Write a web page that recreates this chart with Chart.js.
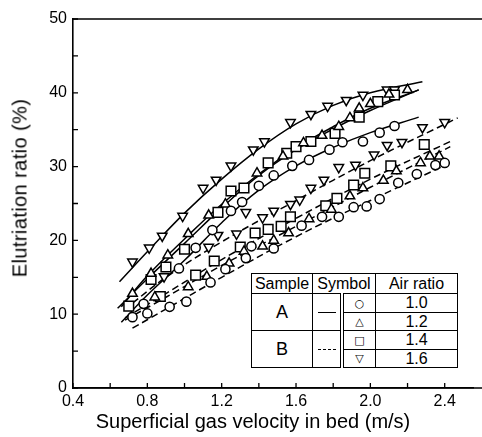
<!DOCTYPE html>
<html>
<head>
<meta charset="utf-8">
<script src="https://cdn.jsdelivr.net/npm/chart.js@4.4.1/dist/chart.umd.min.js"></script>
<style>
  html, body { margin: 0; padding: 0; background: #fff; }
  #wrap { position: relative; width: 482px; height: 437px; overflow: hidden; font-family: "Liberation Sans", Arial, sans-serif; color: #000; }
  canvas { position: absolute; left: 0; top: 0; }
  .ytitle { position: absolute; left: 20px; top: 188px; transform: translate(-50%, -50%) rotate(-90deg); white-space: nowrap; font-size: 20px; letter-spacing: 0.4px; }
  .xtitle { position: absolute; left: 253px; top: 421px; transform: translate(-50%, -50%); white-space: nowrap; font-size: 20px; }
  table.leg { position: absolute; left: 251px; top: 273px; border-collapse: collapse; background: #fff; font-size: 16px; }
  table.leg td { border: 1.5px solid #000; padding: 0; text-align: center; line-height: 1; }
  .sym { font-family: "DejaVu Sans", sans-serif; font-size: 11px; font-weight: bold; }
  .ln { display: inline-block; width: 18px; height: 0; vertical-align: middle; }
</style>
</head>
<body>
<div id="wrap">
  <canvas id="c" width="482" height="437"></canvas>
  <div class="ytitle">Elutriation ratio (%)</div>
  <div class="xtitle">Superficial gas velocity in bed (m/s)</div>
  <table class="leg">
    <tr style="height:20px">
      <td style="width:60px">Sample</td>
      <td colspan="2" style="width:62px">Symbol</td>
      <td style="width:81px">Air ratio</td>
    </tr>
    <tr style="height:19px">
      <td rowspan="2" style="font-size:18px">A</td>
      <td rowspan="2" style="width:27px;border-right:4px double #000"><span class="ln" style="border-top:1.5px solid #000"></span></td>
      <td class="sym" style="width:31px">○</td>
      <td>1.0</td>
    </tr>
    <tr style="height:18px">
      <td class="sym">△</td>
      <td>1.2</td>
    </tr>
    <tr style="height:19px">
      <td rowspan="2" style="font-size:18px">B</td>
      <td rowspan="2" style="border-right:4px double #000"><span class="ln" style="border-top:1.5px dashed #000"></span></td>
      <td class="sym">□</td>
      <td>1.4</td>
    </tr>
    <tr style="height:18px">
      <td class="sym">▽</td>
      <td>1.6</td>
    </tr>
  </table>
</div>
<script>
// ---- tick values ----
const xTicks = [0.4, 0.6, 0.8, 1.0, 1.2, 1.4, 1.6, 1.8, 2.0, 2.2, 2.4];
const yTicks = [0, 5, 10, 15, 20, 25, 30, 35, 40, 45, 50];

// ---- Sample A (solid) measured points ----
const A10_x = [0.72, 0.78, 0.97, 1.06, 1.15, 1.25, 1.31, 1.40, 1.48, 1.58, 1.67, 1.78, 1.85, 1.96, 2.05, 2.13];
const A10_y = [9.6, 11.4, 16.2, 19.0, 21.4, 24.0, 25.2, 27.4, 28.8, 30.1, 30.9, 32.3, 33.3, 33.4, 34.6, 35.5];
const A12_x = [0.72, 0.82, 0.91, 1.02, 1.13, 1.22, 1.39, 1.53, 1.64, 1.74, 1.83, 1.89, 1.94, 2.00, 2.10, 2.20];
const A12_y = [12.8, 15.5, 18.0, 20.9, 23.4, 24.9, 29.1, 31.4, 33.2, 34.2, 35.4, 36.6, 37.9, 38.5, 39.8, 40.4];
const A14_x = [0.70, 0.82, 0.90, 1.00, 1.18, 1.25, 1.32, 1.45, 1.55, 1.60, 1.68, 1.81, 1.94, 2.04, 2.13];
const A14_y = [11.1, 14.7, 16.4, 18.8, 23.8, 26.7, 27.1, 30.5, 31.8, 32.7, 33.4, 34.5, 36.7, 38.8, 39.7];
const A16_x = [0.72, 0.81, 0.88, 0.99, 1.10, 1.17, 1.25, 1.37, 1.43, 1.57, 1.68, 1.77, 1.87, 1.96, 2.09, 2.13];
const A16_y = [17.1, 19.0, 20.6, 23.3, 27.1, 28.2, 30.1, 32.3, 33.4, 36.0, 37.1, 38.2, 39.0, 39.7, 40.4, 40.4];

// ---- Sample B (dashed) measured points ----
const B10_x = [0.80, 0.92, 1.01, 1.14, 1.22, 1.33, 1.36, 1.48, 1.63, 1.74, 1.83, 1.91, 1.98, 2.05, 2.15, 2.25, 2.35, 2.40];
const B10_y = [10.1, 11.0, 11.7, 14.3, 16.1, 17.6, 19.2, 18.9, 22.0, 23.2, 23.2, 24.5, 24.6, 25.6, 27.8, 29.0, 30.2, 30.5];
const B12_x = [0.84, 1.02, 1.12, 1.24, 1.32, 1.42, 1.48, 1.56, 1.67, 1.79, 1.89, 1.96, 2.07, 2.14, 2.27, 2.32, 2.37];
const B12_y = [12.3, 13.7, 15.1, 16.9, 18.5, 19.2, 20.0, 21.0, 22.9, 24.2, 26.0, 27.1, 28.1, 29.4, 30.5, 31.4, 31.4];
const B14_x = [0.87, 1.06, 1.16, 1.30, 1.38, 1.45, 1.52, 1.57, 1.76, 1.82, 1.91, 1.97, 2.11, 2.29];
const B14_y = [12.4, 15.3, 17.2, 19.1, 21.0, 21.5, 21.9, 23.2, 24.7, 25.7, 27.5, 29.1, 30.1, 33.0];
const B16_x = [0.89, 1.13, 1.18, 1.28, 1.33, 1.42, 1.48, 1.57, 1.62, 1.68, 1.75, 1.83, 1.92, 2.02, 2.09, 2.17, 2.28, 2.40];
const B16_y = [15.1, 19.1, 20.7, 20.9, 23.8, 23.1, 24.0, 24.9, 25.5, 27.1, 28.2, 29.9, 30.2, 31.6, 32.9, 33.3, 35.3, 36.0];

// ---- fitted curves ----
const A10_fit_x = [0.66, 0.8, 1.0, 1.2, 1.4, 1.6, 1.8, 2.0, 2.26];
const A10_fit_y = [8.9, 12.6, 17.3, 22.4, 26.8, 30.1, 32.6, 34.6, 36.7];
const A12_fit_x = [0.66, 0.8, 1.0, 1.2, 1.4, 1.6, 1.8, 2.0, 2.26];
const A12_fit_y = [11.0, 15.2, 20.2, 24.9, 29.0, 32.5, 35.4, 37.9, 40.4];
const A14_fit_x = [0.64, 0.8, 1.0, 1.2, 1.4, 1.6, 1.8, 2.0, 2.26];
const A14_fit_y = [10.8, 14.8, 19.6, 24.4, 28.8, 32.3, 35.1, 37.6, 40.4];
const A16_fit_x = [0.65, 0.82, 1.0, 1.2, 1.4, 1.6, 1.8, 2.0, 2.28];
const A16_fit_y = [14.4, 19.0, 23.7, 28.3, 32.4, 35.8, 38.3, 40.0, 41.5];
const B10_fit_x = [0.72, 0.9, 1.2, 1.6, 2.0, 2.42];
const B10_fit_y = [8.1, 10.7, 15.0, 20.5, 25.4, 30.4];
const B12_fit_x = [0.68, 0.9, 1.2, 1.6, 2.0, 2.43];
const B12_fit_y = [9.2, 12.3, 16.6, 21.9, 27.2, 32.7];
const B14_fit_x = [0.68, 0.9, 1.2, 1.6, 2.0, 2.43];
const B14_fit_y = [9.5, 12.8, 17.4, 23.0, 28.3, 33.4];
const B16_fit_x = [0.72, 0.9, 1.2, 1.6, 2.0, 2.47];
const B16_fit_y = [11.5, 15.0, 19.8, 25.4, 30.8, 36.6];

const pts = (xs, ys) => xs.map((x, i) => ({ x: x, y: ys[i] }));

function curve(xs, ys, dashed) {
  return {
    type: 'line', data: pts(xs, ys), showLine: true, pointRadius: 0,
    borderColor: '#000', borderWidth: 1.5, tension: 0.4,
    borderDash: dashed ? [7, 4] : [], fill: false, order: 2
  };
}
function marks(xs, ys, style, r, rot) {
  return {
    type: 'scatter', data: pts(xs, ys), showLine: false,
    pointStyle: style, pointRadius: r, pointRotation: rot || 0,
    pointBackgroundColor: '#fff', pointBorderColor: '#000', pointBorderWidth: 1.5,
    order: 1
  };
}

const datasets = [
  curve(A10_fit_x, A10_fit_y, false), curve(A12_fit_x, A12_fit_y, false),
  curve(A14_fit_x, A14_fit_y, false), curve(A16_fit_x, A16_fit_y, false),
  curve(B10_fit_x, B10_fit_y, true), curve(B12_fit_x, B12_fit_y, true),
  curve(B14_fit_x, B14_fit_y, true), curve(B16_fit_x, B16_fit_y, true),
  marks(A10_x, A10_y, 'circle', 4.6), marks(A12_x, A12_y, 'triangle', 5.5),
  marks(A14_x, A14_y, 'rect', 6.8), marks(A16_x, A16_y, 'triangle', 5.5, 180),
  marks(B10_x, B10_y, 'circle', 4.6), marks(B12_x, B12_y, 'triangle', 5.5),
  marks(B14_x, B14_y, 'rect', 6.8), marks(B16_x, B16_y, 'triangle', 5.5, 180)
];

const frame = {
  id: 'frame',
  afterDraw(chart) {
    const ctx = chart.ctx, xs = chart.scales.x, ys = chart.scales.y, a = chart.chartArea;
    ctx.save();
    ctx.strokeStyle = '#000';
    ctx.lineWidth = 1.3;
    ctx.beginPath();
    yTicks.forEach(v => { const p = ys.getPixelForValue(v); ctx.moveTo(a.left, p); ctx.lineTo(a.left + 5, p); });
    xTicks.forEach(v => { const p = xs.getPixelForValue(v); ctx.moveTo(p, a.bottom); ctx.lineTo(p, a.bottom - 5); });
    ctx.stroke();
    ctx.lineWidth = 1.6;
    ctx.beginPath();
    ctx.moveTo(a.left, a.top); ctx.lineTo(chart.width, a.top);
    ctx.moveTo(a.left, a.bottom); ctx.lineTo(chart.width, a.bottom);
    ctx.stroke();
    ctx.restore();
  }
};

new Chart(document.getElementById('c'), {
  type: 'scatter',
  data: { datasets: datasets },
  plugins: [frame],
  options: {
    responsive: false, animation: false,
    layout: { padding: { left: 0, right: 0, top: 19, bottom: 0 } },
    plugins: { legend: { display: false }, tooltip: { enabled: false } },
    scales: {
      x: {
        type: 'linear', min: 0.4, max: 2.556,
        afterBuildTicks: s => { s.ticks = xTicks.map(v => ({ value: v })); },
        afterFit: s => { s.height = 49; s.paddingLeft = 0; s.paddingRight = 0; },
        grid: { display: false, drawTicks: false },
        border: { display: true, color: '#000', width: 1.6 },
        ticks: {
          color: '#000', padding: 4, maxRotation: 0, autoSkip: false,
          font: { family: '"Liberation Sans", Arial, sans-serif', size: 16 },
          callback: (v, i) => (i % 2 === 0 ? v.toFixed(1) : '')
        }
      },
      y: {
        type: 'linear', min: 0, max: 50,
        afterBuildTicks: s => { s.ticks = yTicks.map(v => ({ value: v })); },
        afterFit: s => { s.width = 73; s.paddingTop = 0; s.paddingBottom = 0; },
        grid: { display: false, drawTicks: false },
        border: { display: true, color: '#000', width: 1.6 },
        ticks: {
          color: '#000', padding: 6, autoSkip: false,
          font: { family: '"Liberation Sans", Arial, sans-serif', size: 16 },
          callback: v => (v % 10 === 0 ? String(v) : '')
        }
      }
    }
  }
});
</script>
</body>
</html>
